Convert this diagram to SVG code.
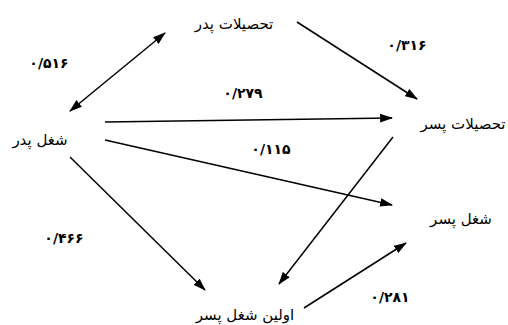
<svg xmlns="http://www.w3.org/2000/svg" width="508" height="325" viewBox="0 0 508 325">
<style>
.n{font-family:"DejaVu Sans",sans-serif;font-size:15px;fill:#000;text-anchor:middle;direction:rtl}
.l{font-family:"DejaVu Sans",sans-serif;font-size:14px;font-weight:bold;fill:#000;text-anchor:middle}
.c line{stroke:#000;stroke-width:1.5;marker-end:url(#ah)}
</style>
<defs>
<marker id="ah" viewBox="0 0 12 8" refX="11" refY="4" markerWidth="13" markerHeight="9" markerUnits="userSpaceOnUse" orient="auto-start-reverse">
<path d="M0,0 L12,4 L0,8 Z" fill="#000"/>
</marker>
</defs>
<rect width="508" height="325" fill="#fff"/>
<g class="c" id="connectors">
<line x1="70" y1="111" x2="165" y2="33" style="marker-start:url(#ah)"/>
<line x1="297" y1="22" x2="417" y2="99"/>
<line x1="105" y1="122" x2="392" y2="118"/>
<line x1="105" y1="140" x2="392" y2="205"/>
<line x1="70" y1="157" x2="205" y2="290"/>
<line x1="393" y1="137" x2="279" y2="284"/>
<line x1="304" y1="308" x2="406" y2="243"/>
</g>
<g id="labels">
<text class="l" x="49" y="68">۰/۵۱۶</text>
<text class="l" x="407" y="50">۰/۳۱۶</text>
<text class="l" x="243" y="98">۰/۲۷۹</text>
<text class="l" x="271" y="154">۰/۱۱۵</text>
<text class="l" x="64" y="243">۰/۴۶۶</text>
<text class="l" x="390" y="302">۰/۲۸۱</text>
</g>
<g id="father-edu"><text class="n" x="234" y="29">تحصیلات پدر</text></g>
<g id="father-job"><text class="n" x="40" y="145">شغل پدر</text></g>
<g id="son-edu"><text class="n" x="463" y="129">تحصیلات پسر</text></g>
<g id="son-job"><text class="n" x="461" y="224">شغل پسر</text></g>
<g id="son-first-job"><text class="n" x="245" y="320">اولین شغل پسر</text></g>
</svg>
